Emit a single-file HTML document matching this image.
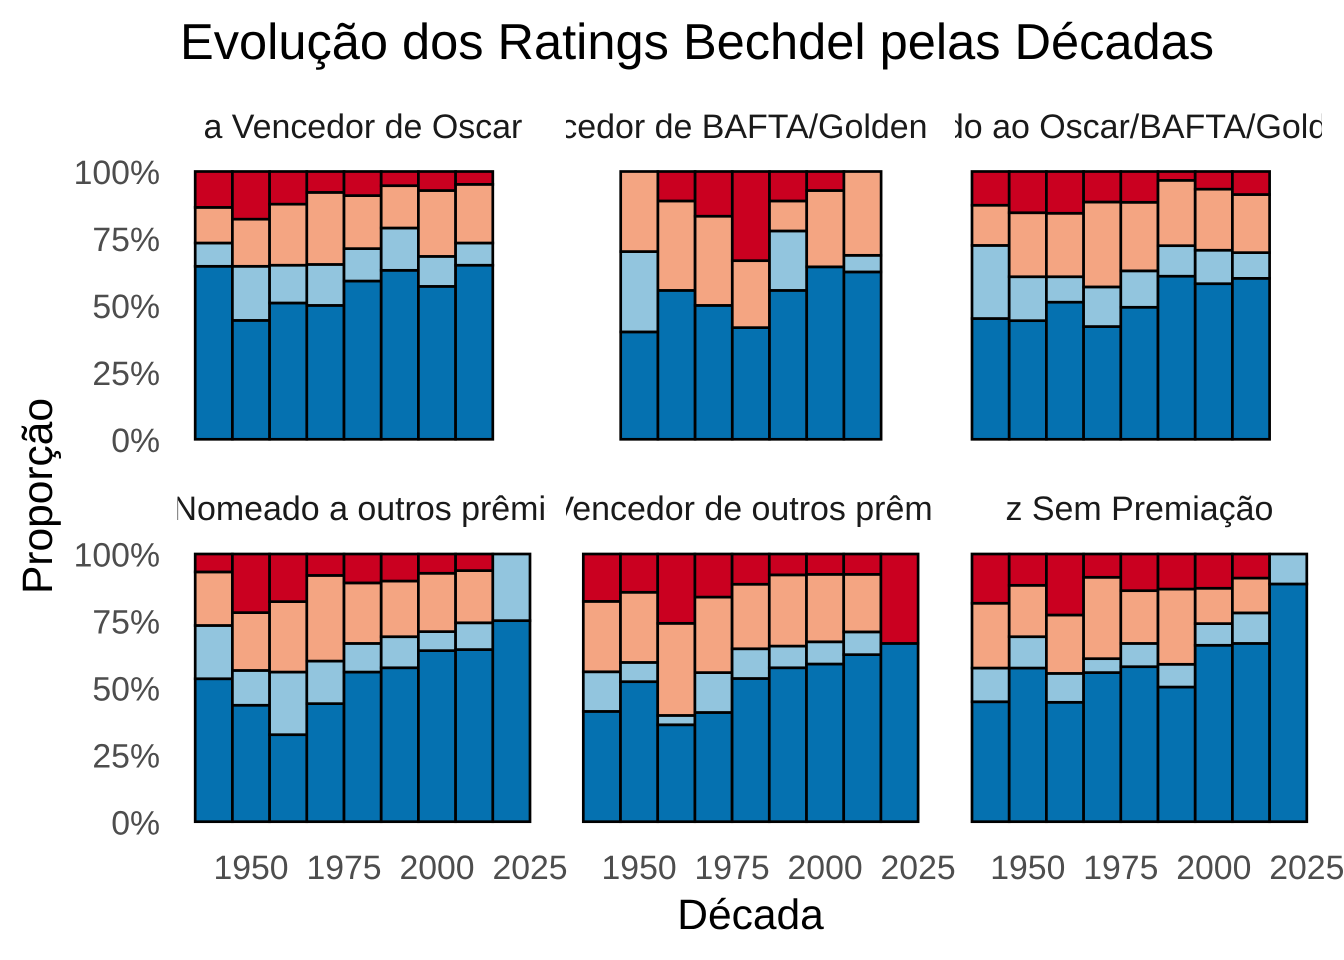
<!DOCTYPE html>
<html lang="pt">
<head>
<meta charset="utf-8">
<title>Evolução dos Ratings Bechdel pelas Décadas</title>
<style>
  html, body { margin: 0; padding: 0; background: #fff; }
  svg { display: block; font-family: "Liberation Sans", sans-serif; text-rendering: geometricPrecision; }
</style>
</head>
<body>
<svg id="chart" xmlns="http://www.w3.org/2000/svg" width="1344" height="960" viewBox="0 0 1344 960">
  <rect x="0" y="0" width="1344" height="960" fill="#ffffff"/>
  <text x="180" y="59" font-size="50.55" fill="#000000">Evolução dos Ratings Bechdel pelas Décadas</text>
  <text x="750.5" y="929" font-size="42.5" fill="#000000" text-anchor="middle">Década</text>
  <text transform="translate(52,496) rotate(-90)" font-size="42.5" fill="#000000" text-anchor="middle">Proporção</text>
</svg>
<script>
// Decades per facet
const decades9 = [1940, 1950, 1960, 1970, 1980, 1990, 2000, 2010, 2020];
const decades8 = [1940, 1950, 1960, 1970, 1980, 1990, 2000, 2010];
const decades7 = [1950, 1960, 1970, 1980, 1990, 2000, 2010];

// Axis tick labels
const yTicks = [0, 25, 50, 75, 100];
const xTicks = [1950, 1975, 2000, 2025];

// Facet 1: Vencedor de Oscar (share %, by rating group)
const oscarBlue = [64.6, 44.4, 50.9, 50, 59.1, 63.1, 57.1, 65];
const oscarLight = [8.7, 20.2, 14.1, 15.3, 12.1, 15.8, 11.2, 8.3];
const oscarSalmon = [13.3, 17.6, 22.8, 26.9, 19.8, 15.8, 24.6, 21.9];
const oscarRed = [13.4, 17.8, 12.2, 7.8, 9, 5.3, 7.1, 4.8];

// Facet 2: Vencedor de BAFTA/Golden
const baftaBlue = [40.1, 55.6, 50, 41.7, 55.6, 64.4, 62.5];
const baftaLight = [30, 0, 0, 0, 22.2, 0, 6.2];
const baftaSalmon = [29.9, 33.4, 33.3, 25, 11.2, 28.5, 31.3];
const baftaRed = [0, 11, 16.7, 33.3, 11, 7.1, 0];

// Facet 3: Nomeado ao Oscar/BAFTA/Golden
const nomBlue = [45.1, 44.3, 51.2, 42.1, 49.3, 60.9, 58.1, 60.1];
const nomLight = [27.3, 16.4, 9.5, 14.8, 13.6, 11.4, 12.5, 9.6];
const nomSalmon = [15, 23.9, 23.7, 31.7, 25.6, 24.4, 22.8, 21.7];
const nomRed = [12.6, 15.4, 15.6, 11.4, 11.5, 3.3, 6.6, 8.6];

// Facet 4: Nomeado a outros prêmios
const otherNomBlue = [53.4, 43.5, 32.5, 44.1, 55.9, 57.5, 63.9, 64.3, 75.1];
const otherNomLight = [19.9, 13, 23.4, 15.9, 10.7, 11.6, 7.1, 10, 24.9];
const otherNomSalmon = [20, 21.6, 26.3, 32, 22.6, 20.8, 21.8, 19.5, 0];
const otherNomRed = [6.7, 21.9, 17.8, 8, 10.8, 10.1, 7.2, 6.2, 0];

// Facet 5: Vencedor de outros prêmios
const otherWinBlue = [41.2, 52.3, 36.2, 40.8, 53.5, 57.5, 58.9, 62.4, 66.6];
const otherWinLight = [14.8, 7.2, 3.5, 14.9, 11.1, 8.1, 8.3, 8.5, 0];
const otherWinSalmon = [26.3, 26.2, 34.4, 28.2, 24.1, 26.6, 25.2, 21.5, 0];
const otherWinRed = [17.7, 14.3, 25.9, 16.1, 11.3, 7.8, 7.6, 7.6, 33.4];

// Facet 6: Sem Premiação
const noneBlue = [44.8, 57.4, 44.6, 55.7, 57.9, 50.3, 65.9, 66.6, 88.8];
const noneLight = [12.6, 11.7, 10.8, 5.2, 8.7, 8.5, 8.1, 11.4, 11.2];
const noneSalmon = [24.2, 19.2, 21.8, 30.4, 19.7, 28.1, 13.2, 13, 0];
const noneRed = [18.4, 11.7, 22.8, 8.7, 13.7, 13.1, 12.8, 9, 0];

const SVG_NS = 'http://www.w3.org/2000/svg';
const svg = document.getElementById('chart');
const seriesColors = ['#0571b0', '#92c5de', '#f4a582', '#ca0020'];
const seriesSlugs = ['blue', 'light-blue', 'salmon', 'red'];
const YEARS_PER_BAR = 10;
const PX_PER_YEAR = 3.72;
const TICK_SIZE = 33.78;
const STRIP_SIZE = 33.95;

// Facet layout: x1950 is the pixel of year 1950, y0/y100 the vertical axis ends
const facets = [
  { slug: 'oscar', label: 'a Vencedor de Oscar', anchor: 'start', tx: 203.5, ty: 138, clipL: 177, clipR: 548, x1950: 251, y0: 439.3, y100: 171.5, yLabels: true, xLabels: false, decades: decades8, series: [oscarBlue, oscarLight, oscarSalmon, oscarRed] },
  { slug: 'bafta', label: 'Vencedor de BAFTA/Golden', anchor: 'end', tx: 927.5, ty: 138, clipL: 566, clipR: 936.5, x1950: 639.3, y0: 439.3, y100: 171.5, yLabels: false, xLabels: false, decades: decades7, series: [baftaBlue, baftaLight, baftaSalmon, baftaRed] },
  { slug: 'nominated', label: 'Nomeado ao Oscar/BAFTA/Golden Globe', anchor: 'start', tx: 835.5, ty: 138, clipL: 955, clipR: 1322, x1950: 1027.8, y0: 439.3, y100: 171.5, yLabels: false, xLabels: false, decades: decades8, series: [nomBlue, nomLight, nomSalmon, nomRed] },
  { slug: 'other-nominated', label: 'Nomeado a outros prêmios', anchor: 'start', tx: 172.5, ty: 520, clipL: 177.5, clipR: 547.3, x1950: 251, y0: 821.7, y100: 554, yLabels: true, xLabels: true, decades: decades9, series: [otherNomBlue, otherNomLight, otherNomSalmon, otherNomRed] },
  { slug: 'other-winner', label: 'Vencedor de outros prêmios', anchor: 'start', tx: 551.5, ty: 520, clipL: 566, clipR: 933, x1950: 639.1, y0: 821.7, y100: 554, yLabels: false, xLabels: true, decades: decades9, series: [otherWinBlue, otherWinLight, otherWinSalmon, otherWinRed] },
  { slug: 'no-award', label: 'z Sem Premiação', anchor: 'start', tx: 1005.5, ty: 520, clipL: 955, clipR: 1325, x1950: 1027.8, y0: 821.7, y100: 554, yLabels: false, xLabels: true, decades: decades9, series: [noneBlue, noneLight, noneSalmon, noneRed] }
];

function make(tag, attrs, parent) {
  const el = document.createElementNS(SVG_NS, tag);
  Object.keys(attrs).forEach(function (k) { el.setAttribute(k, attrs[k]); });
  parent.appendChild(el);
  return el;
}

const defs = make('defs', {}, svg);

facets.forEach(function (f, fi) {
  const xScale = function (year) { return f.x1950 + (year - 1950) * PX_PER_YEAR; };
  const yScale = function (pct) { return f.y0 + (f.y100 - f.y0) * pct / 100; };

  const panel = make('g', {}, svg);
  
  

  // Strip title, clipped to the strip's width
  const clip = make('clipPath', { id: 'strip-clip-' + fi }, defs);
  make('rect', { x: f.clipL, y: f.ty - 40, width: f.clipR - f.clipL, height: 60 }, clip);
  const strip = make('text', { x: f.tx, y: f.ty, 'font-size': STRIP_SIZE, fill: '#1a1a1a', 'text-anchor': f.anchor, 'clip-path': 'url(#strip-clip-' + fi + ')' }, panel);
  
  
  strip.textContent = f.label;

  // Stacked bars
  f.decades.forEach(function (decade, di) {
    let cum = 0;
    f.series.forEach(function (values, si) {
      const v = values[di];
      const start = cum;
      cum += v;
      if (!(v > 0)) { return; }
      const yTop = yScale(start + v);
      const yBottom = yScale(start);
      const bar = make('rect', {
        x: xScale(decade - YEARS_PER_BAR / 2),
        y: yTop,
        width: YEARS_PER_BAR * PX_PER_YEAR,
        height: yBottom - yTop,
        fill: seriesColors[si],
        stroke: '#000000',
        'stroke-width': 2.7
      }, panel);
      
      
    });
  });

  // Y tick labels
  if (f.yLabels) {
    yTicks.forEach(function (t) {
      const label = make('text', { x: 160, y: yScale(t) + 12.6, 'font-size': TICK_SIZE, fill: '#4d4d4d', 'text-anchor': 'end' }, panel);
      
      
      label.textContent = t + '%';
    });
  }

  // X tick labels
  if (f.xLabels) {
    xTicks.forEach(function (t) {
      const label = make('text', { x: xScale(t), y: 879, 'font-size': TICK_SIZE, fill: '#4d4d4d', 'text-anchor': 'middle' }, panel);
      
      
      label.textContent = t;
    });
  }
});
</script>
</body>
</html>
